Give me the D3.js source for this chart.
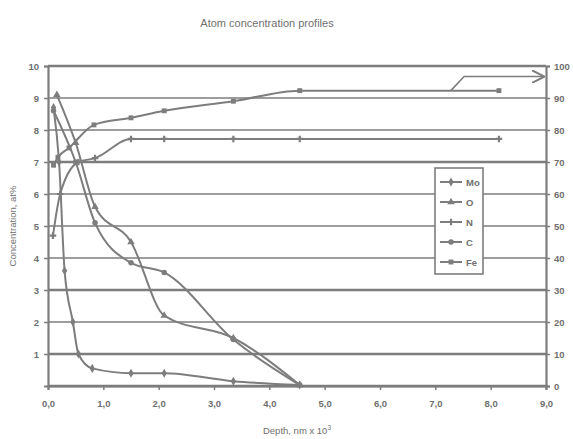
<!DOCTYPE html>
<html>
<head>
<meta charset="utf-8">
<script src="https://cdn.jsdelivr.net/npm/d3@7"></script>
<style>
  body { margin: 0; background: #fff; }
  text { font-family: "Liberation Sans", Arial, sans-serif; fill: #6f6f6f; }
</style>
</head>
<body>
<script>
// values (depth in nm x 10^3)
const moDepth = [0.1, 0.2, 0.3, 0.45, 0.55, 0.8, 1.5, 2.1, 3.35, 4.55]
const moConc  = [8.7, 7.0, 3.6, 2.0, 1.0, 0.55, 0.4, 0.4, 0.15, 0.03]

const oDepth = [0.16, 0.5, 0.85, 1.5, 2.1, 3.35, 4.55]
const oConc  = [9.1, 7.6, 5.6, 4.5, 2.2, 1.5, 0.03]

const nDepth = [0.09, 0.22, 0.55, 0.85, 1.5, 2.1, 3.35, 4.55, 8.15]
const nConc  = [4.7, 6.0, 7.0, 7.12, 7.72, 7.72, 7.72, 7.72, 7.72]

const cDepth = [0.1, 0.5, 0.85, 1.5, 2.1, 3.35, 4.55]
const cConc  = [8.6, 7.0, 5.1, 3.85, 3.55, 1.45, 0.03]

// Fe is on the right axis (%)
const feDepth = [0.1, 0.18, 0.38, 0.83, 1.5, 2.1, 3.35, 4.55, 8.15]
const feConc  = [69, 71.5, 74.4, 81.6, 83.8, 86, 89, 92.3, 92.3]

const seriesNames = ['Mo', 'O', 'N', 'C', 'Fe']
const leftTicks = [1, 2, 3, 4, 5, 6, 7, 8, 9, 10]
const rightTicks = [0, 10, 20, 30, 40, 50, 60, 70, 80, 90, 100]
const depthTicks = [0, 1, 2, 3, 4, 5, 6, 7, 8, 9]

const W = 573, H = 439
const grey = '#7d7d7d'

const x = d3.scaleLinear().domain([0, 9]).range([48, 546])
const yL = d3.scaleLinear().domain([0, 10]).range([386, 66])
const yR = d3.scaleLinear().domain([0, 100]).range([386, 66])

const svg = d3.select('body').append('svg')
    .attr('width', W)
    .attr('height', H)

// title
svg.append('text')
    .attr('x', 267).attr('y', 27)
    .attr('text-anchor', 'middle')
    .style('font-size', '11px')
    .text('Atom concentration profiles')

// gridlines, some look heavier in the scan
const heavy = [0, 3, 7, 1, 10]
svg.append('g').selectAll('line')
    .data(d3.range(0, 11))
    .enter().append('line')
    .attr('x1', x(0)).attr('x2', x(9))
    .attr('y1', d => yL(d)).attr('y2', d => yL(d))
    .attr('stroke', grey)
    .attr('stroke-width', d => heavy.includes(d) ? 2.4 : 1.6)

// axes
const leftAxis = svg.append('g')
    .attr('transform', `translate(${x(0)},0)`)
    .call(d3.axisLeft(yL).tickValues(leftTicks).tickSize(4).tickFormat(d3.format('d')))
const rightAxis = svg.append('g')
    .attr('transform', `translate(${x(9)},0)`)
    .call(d3.axisRight(yR).tickValues(rightTicks).tickSize(4).tickFormat(d3.format('d')))
const bottomAxis = svg.append('g')
    .attr('transform', `translate(0,${yL(0)})`)
    .call(d3.axisBottom(x).tickValues(depthTicks).tickSize(4)
        .tickFormat(d => d3.format('.1f')(d).replace('.', ',')))

;[leftAxis, rightAxis, bottomAxis].forEach(a => {
    a.select('.domain').attr('stroke', grey).attr('stroke-width', 2.2)
    a.selectAll('.tick line').attr('stroke', grey).attr('stroke-width', 1.5)
    a.selectAll('.tick text')
        .style('font-size', '9.5px')
        .style('font-weight', 'bold')
        .attr('fill', '#6f6f6f')
})
leftAxis.selectAll('.tick text').attr('x', -9)
rightAxis.selectAll('.tick text').attr('x', 8)
bottomAxis.selectAll('.tick text').attr('y', 14)

// axis titles
svg.append('text')
    .attr('transform', 'translate(16,226) rotate(-90)')
    .attr('text-anchor', 'middle')
    .style('font-size', '9.5px')
    .text('Concentration, at%')

const xt = svg.append('text')
    .attr('x', 297).attr('y', 434)
    .attr('text-anchor', 'middle')
    .style('font-size', '9.5px')
xt.append('tspan').text('Depth, nm x 10')
xt.append('tspan').attr('dy', -4).style('font-size', '6.5px').text('3')

// series
const symbols = [d3.symbolDiamond, d3.symbolTriangle, d3.symbolCross, d3.symbolCircle, d3.symbolSquare]
const series = [
    { name: 'Mo', depth: moDepth, conc: moConc, y: yL },
    { name: 'O', depth: oDepth, conc: oConc, y: yL },
    { name: 'N', depth: nDepth, conc: nConc, y: yL },
    { name: 'C', depth: cDepth, conc: cConc, y: yL },
    { name: 'Fe', depth: feDepth, conc: feConc, y: yR }
]

series.forEach((s, i) => {
    const pts = s.depth.map((d, k) => [d, s.conc[k]])
    const line = d3.line()
        .x(p => x(p[0]))
        .y(p => s.y(p[1]))
        .curve(d3.curveMonotoneX)
    svg.append('path')
        .datum(pts)
        .attr('d', line)
        .attr('fill', 'none')
        .attr('stroke', grey)
        .attr('stroke-width', 2)
    svg.append('g').selectAll('path')
        .data(pts)
        .enter().append('path')
        .attr('transform', p => `translate(${x(p[0])},${s.y(p[1])})`)
        .attr('d', d3.symbol().type(symbols[i]).size(24))
        .attr('fill', grey)
})

// annotation arrow pointing Fe to the right axis
svg.append('defs').append('marker')
    .attr('id', 'arrow')
    .attr('viewBox', '0 0 10 10')
    .attr('refX', 9).attr('refY', 5)
    .attr('markerWidth', 8).attr('markerHeight', 8)
    .attr('orient', 'auto')
    .append('path')
    .attr('d', 'M0,0 L10,5 L0,10')
    .attr('fill', 'none')
    .attr('stroke', grey)
    .attr('stroke-width', 1.6)

const arrowPts = [[7.28, 92.3], [7.52, 96.7], [8.95, 96.7]]
svg.append('path')
    .attr('d', d3.line().x(p => x(p[0])).y(p => yR(p[1]))(arrowPts))
    .attr('fill', 'none')
    .attr('stroke', grey)
    .attr('stroke-width', 1.6)
    .attr('marker-end', 'url(#arrow)')

// legend
const legend = svg.append('g')
legend.append('rect')
    .attr('x', 435).attr('y', 168)
    .attr('width', 48).attr('height', 106)
    .attr('fill', '#fff')
    .attr('stroke', grey)
    .attr('stroke-width', 1.6)

const items = legend.selectAll('.item')
    .data(seriesNames)
    .enter().append('g')
    .attr('class', 'item')
    .attr('transform', (d, i) => `translate(440,${182 + i * 20})`)
items.append('line')
    .attr('x1', 0).attr('x2', 22)
    .attr('stroke', grey).attr('stroke-width', 2)
items.append('path')
    .attr('transform', 'translate(11,0)')
    .attr('d', (d, i) => d3.symbol().type(symbols[i]).size(24)())
    .attr('fill', grey)
items.append('text')
    .attr('x', 26).attr('y', 3.5)
    .style('font-size', '9.5px')
    .style('font-weight', 'bold')
    .text(d => d)
</script>
</body>
</html>
